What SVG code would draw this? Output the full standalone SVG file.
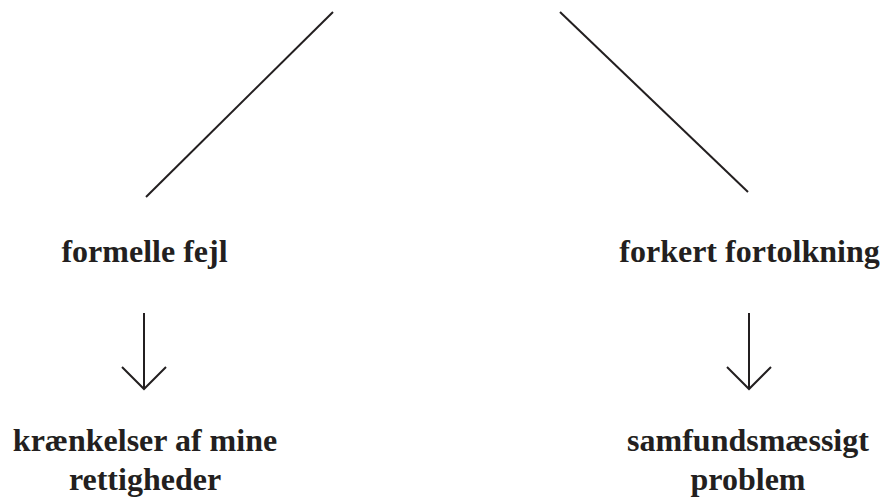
<svg xmlns="http://www.w3.org/2000/svg" width="880" height="498" viewBox="0 0 880 498">
<style>
.ln{stroke:#231f20;stroke-width:2;fill:none}
.t{font-family:"Liberation Serif","Times New Roman",serif;font-weight:bold;font-size:32px;fill:#231f20;text-anchor:middle}
</style>
<rect width="880" height="498" fill="#fff"/>
<g id="connectors">
<line class="ln" x1="333" y1="12" x2="146" y2="197"/>
<line class="ln" x1="560" y1="12" x2="748" y2="192"/>
<g id="arrow-left"><line class="ln" x1="144" y1="313" x2="144" y2="388"/><polyline class="ln" points="122,367 144,389 166,367"/></g>
<g id="arrow-right"><line class="ln" x1="749" y1="313" x2="749" y2="388"/><polyline class="ln" points="727,367 749,389 771,367"/></g>
</g>
<g id="n1"><text class="t" x="144.5" y="262">formelle fejl</text></g>
<g id="n2"><text class="t" x="749.5" y="262">forkert fortolkning</text></g>
<g id="n3"><text class="t" x="145" y="451">krænkelser af mine</text><text class="t" x="145" y="490">rettigheder</text></g>
<g id="n4"><text class="t" x="748" y="451">samfundsmæssigt</text><text class="t" x="748" y="490">problem</text></g>
</svg>
